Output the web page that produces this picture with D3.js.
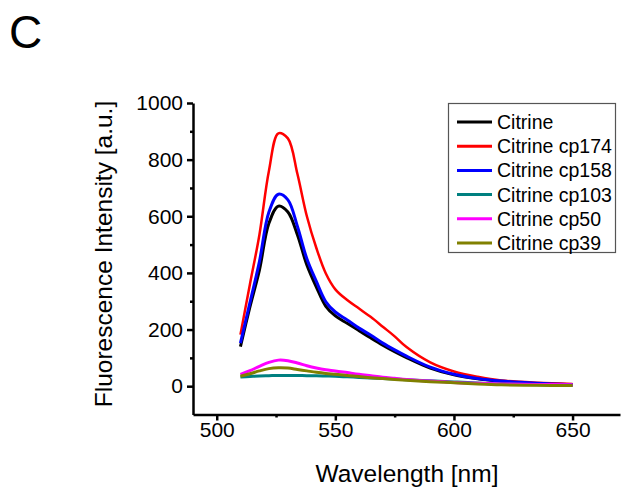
<!DOCTYPE html>
<html>
<head>
<meta charset="utf-8">
<script src="https://cdn.jsdelivr.net/npm/d3@7"></script>
<style>
  body { margin: 0; background: #fff; }
  svg { display: block; font-family: "Liberation Sans", Arial, sans-serif; }
</style>
</head>
<body>
<div id="chart"></div>
<script>
// wavelength samples (nm)
const wavelengths = [510, 514, 518, 522, 526, 530, 534, 538, 542, 546, 550, 555, 560, 565, 570, 575, 580, 590, 600, 610, 620, 635, 650]

// intensities [a.u.]
const citrine  = [140, 280, 410, 575, 636, 615, 535, 428, 350, 282, 248, 222, 196, 170, 145, 122, 101, 64, 40, 26, 17, 9, 4]
const cp174    = [182, 360, 535, 760, 893, 875, 750, 600, 488, 398, 342, 304, 274, 244, 210, 176, 138, 84, 52, 33, 20, 12, 8]
const cp158    = [152, 295, 440, 615, 678, 658, 565, 450, 370, 298, 262, 234, 205, 180, 152, 128, 106, 67, 42, 27, 18, 10, 5]
const cp103    = [32, 34, 36, 37, 38, 38, 38, 37, 37, 36, 35, 33, 31, 29, 27, 25, 23, 19, 15, 11, 8, 5, 3]
const cp50     = [42, 55, 70, 84, 92, 90, 82, 72, 64, 58, 54, 48, 42, 37, 32, 28, 24, 18, 13, 10, 8, 6, 5]
const cp39     = [35, 44, 54, 62, 65, 64, 59, 54, 49, 45, 42, 38, 34, 30, 27, 24, 21, 16, 12, 8, 5, 3, 2]

const seriesNames = ["Citrine", "Citrine cp174", "Citrine cp158", "Citrine cp103", "Citrine cp50", "Citrine cp39"]
const seriesValues = [citrine, cp174, cp158, cp103, cp50, cp39]
const seriesColors = ["#000000", "#ff0000", "#0000ff", "#008080", "#ff00ff", "#808000"]

const xMajor = [500, 550, 600, 650]
const xMinor = [525, 575, 625]
const yMajor = [0, 200, 400, 600, 800, 1000]
const yMinor = [100, 300, 500, 700, 900]

const width = 622
const height = 495

const x = d3.scaleLinear().domain([490, 670]).range([193, 620])
const y = d3.scaleLinear().domain([-100, 1000]).range([414.5, 103])

const svg = d3.select("#chart").append("svg")
  .attr("width", width)
  .attr("height", height)

// panel letter
svg.append("text")
  .attr("x", 9).attr("y", 48)
  .style("font-size", "46px")
  .text("C")

//////////////////////////////////////////////////////////////////////
// CURVES
//////////////////////////////////////////////////////////////////////
const line = d3.line()
  .x((d) => x(d[0]))
  .y((d) => y(d[1]))
  .curve(d3.curveCatmullRom.alpha(0.5))

const plot = svg.append("g")
seriesValues.forEach((vals, i) => {
  plot.append("path")
    .datum(wavelengths.map((w, j) => [w, vals[j]]))
    .attr("fill", "none")
    .attr("stroke", seriesColors[i])
    .attr("stroke-width", i === 1 ? 2.5 : 3)
    .attr("stroke-linejoin", "round")
    .attr("d", line)
})

//////////////////////////////////////////////////////////////////////
// AXES
//////////////////////////////////////////////////////////////////////
svg.append("g")
  .attr("transform", `translate(0,${y(-100)})`)
  .call(d3.axisBottom(x).tickValues(xMajor).tickSize(6).tickSizeOuter(0).tickPadding(2).tickFormat(d3.format("d")))
svg.append("g")
  .attr("transform", `translate(0,${y(-100)})`)
  .call(d3.axisBottom(x).tickValues(xMinor).tickSize(3).tickFormat(""))
  .call((g) => g.select(".domain").remove())

svg.append("g")
  .attr("transform", `translate(${x(490)},0)`)
  .call(d3.axisLeft(y).tickValues(yMajor).tickSize(6).tickSizeOuter(0).tickPadding(4).tickFormat(d3.format("d")))
svg.append("g")
  .attr("transform", `translate(${x(490)},0)`)
  .call(d3.axisLeft(y).tickValues(yMinor).tickSize(3).tickFormat(""))
  .call((g) => g.select(".domain").remove())

svg.selectAll(".domain").attr("stroke-width", 2.5)
svg.selectAll(".tick line").attr("stroke-width", 2.5)
svg.selectAll(".tick text")
  .attr("fill", "#000")
  .style("font-size", "21px")
  .style("font-family", '"Liberation Sans", Arial, sans-serif')

svg.append("text")
  .attr("x", 407).attr("y", 482)
  .attr("text-anchor", "middle")
  .style("font-size", "24.5px")
  .text("Wavelength [nm]")

svg.append("text")
  .attr("transform", "translate(112,254) rotate(-90)")
  .attr("text-anchor", "middle")
  .style("font-size", "24.5px")
  .text("Fluorescence Intensity [a.u.]")

//////////////////////////////////////////////////////////////////////
// LEGEND
//////////////////////////////////////////////////////////////////////
const legend = svg.append("g")
legend.append("rect")
  .attr("x", 448.5).attr("y", 103.5)
  .attr("width", 167).attr("height", 149)
  .attr("fill", "#fff")
  .attr("stroke", "#555")
  .attr("stroke-width", 1.2)

const row = d3.scaleLinear().domain([0, 5]).range([122, 243])
seriesNames.forEach((name, i) => {
  legend.append("line")
    .attr("x1", 457).attr("x2", 492)
    .attr("y1", row(i)).attr("y2", row(i))
    .attr("stroke", seriesColors[i])
    .attr("stroke-width", 3)
  legend.append("text")
    .attr("x", 497).attr("y", row(i) + 7)
    .style("font-size", "19.5px")
    .text(name)
})
</script>
</body>
</html>
